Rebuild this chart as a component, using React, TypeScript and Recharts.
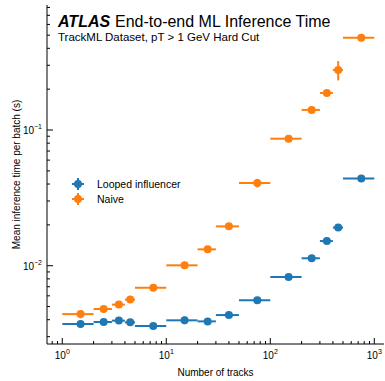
import { ScatterChart, Scatter, XAxis, YAxis, ErrorBar, Legend } from 'recharts';

const FONT = '"Liberation Sans", Arial, Helvetica, sans-serif';
const BLUE = '#1f77b4';
const ORANGE = '#ff7f0e';

// track-count bins (x error bars span the bin)
const binLow = [1, 2, 3, 4, 5, 10, 20, 30, 50, 100, 200, 300, 400, 500];
const binHigh = [2, 3, 4, 5, 10, 20, 30, 50, 100, 200, 300, 400, 500, 1000];

// mean inference time per batch (s)
const loopedTime = [0.00372, 0.00385, 0.00394, 0.00383, 0.0036, 0.00396, 0.00389, 0.00433, 0.00556, 0.00826, 0.01135, 0.0152, 0.0191, 0.044];
const loopedErr = [0.0002, 0.00015, 0.00015, 0.00012, 0.00015, 0.00025, 0.00012, 0.00012, 0.00015, 0.0002, 0.0003, 0.0004, 0.0005, 0.0008];
const naiveTime = [0.0044, 0.0048, 0.00517, 0.00563, 0.00689, 0.01007, 0.0132, 0.0195, 0.0407, 0.0863, 0.1406, 0.1875, 0.277, 0.479];
const naiveErr = [0.0003, 0.0002, 0.0002, 0.0002, 0.0002, 0.0003, 0.0003, 0.0006, 0.003, 0.002, 0.004, 0.008, 0.045, 0.01];

const xTicks = [0.8, 0.9, 1, 2, 3, 4, 5, 6, 7, 8, 9, 10, 20, 30, 40, 50, 60, 70, 80, 90, 100, 200, 300, 400, 500, 600, 700, 800, 900, 1000];
const yTicks = [0.003, 0.004, 0.005, 0.006, 0.007, 0.008, 0.009, 0.01, 0.02, 0.03, 0.04, 0.05, 0.06, 0.07, 0.08, 0.09, 0.1, 0.2, 0.3, 0.4, 0.5, 0.6, 0.7, 0.8];

const xDomain = [0.713, 1240];
const yDomain = [0.00265, 0.834];

const toRows = (times: number[], errs: number[]) =>
  times.map((t, i) => {
    const x = (binLow[i] + binHigh[i]) / 2;
    return { x, y: t, xerr: [x - binLow[i], binHigh[i] - x], yerr: errs[i] };
  });

const loopedData = toRows(loopedTime, loopedErr);
const naiveData = toRows(naiveTime, naiveErr);

const isMajor = (v: number) => Math.abs(Math.log10(v) - Math.round(Math.log10(v))) < 1e-6;
const MAJOR = 6;
const MINOR = 3;

const PowerLabel = ({ x, y, v, anchor }: any) => (
  <text x={x} y={y} textAnchor={anchor} fontFamily={FONT} fontSize={10} fill="#000">
    10
    <tspan dy={-5} fontSize={7}>{Math.round(Math.log10(v)).toString().replace('-', '\u2212')}</tspan>
  </text>
);

const BottomTick = ({ x, y, payload }: any) => {
  const major = isMajor(payload.value);
  return (
    <g>
      <line x1={x} x2={x} y1={y} y2={y - (major ? MAJOR : MINOR)} stroke="#000" />
      {major && <PowerLabel x={x} y={y + 15} v={payload.value} anchor="middle" />}
    </g>
  );
};

const TopTick = ({ x, y, payload }: any) => (
  <line x1={x} x2={x} y1={y} y2={y + (isMajor(payload.value) ? MAJOR : MINOR)} stroke="#000" />
);

const LeftTick = ({ x, y, payload }: any) => {
  const major = isMajor(payload.value);
  return (
    <g>
      <line x1={x} x2={x + (major ? MAJOR : MINOR)} y1={y} y2={y} stroke="#000" />
      {major && <PowerLabel x={x - 5} y={y + 4} v={payload.value} anchor="end" />}
    </g>
  );
};

const RightTick = ({ x, y, payload }: any) => (
  <line x1={x} x2={x - (isMajor(payload.value) ? MAJOR : MINOR)} y1={y} y2={y} stroke="#000" />
);

const Dot = (color: string) => (props: any) => <circle cx={props.cx} cy={props.cy} r={4} fill={color} />;

const LegendContent = ({ payload }: any) => (
  <div style={{ fontFamily: FONT, fontSize: 10.5, color: '#000' }}>
    {(payload || []).map((entry: any) => (
      <div key={entry.value} style={{ display: 'flex', alignItems: 'center', height: 15 }}>
        <svg width={14} height={14}>
          <line x1={1} x2={13} y1={7} y2={7} stroke={entry.color} strokeWidth={2} />
          <line x1={7} x2={7} y1={1} y2={13} stroke={entry.color} strokeWidth={2} />
          <circle cx={7} cy={7} r={4} fill={entry.color} />
        </svg>
        <span style={{ marginLeft: 12 }}>{entry.value}</span>
      </div>
    ))}
  </div>
);

export default function App() {
  return (
    <div style={{ position: 'absolute', left: 0, top: 0, width: 385, height: 381, background: '#fff' }}>
      <ScatterChart width={385} height={381} margin={{ top: 5, right: 1, bottom: 0, left: 0 }}>
        <XAxis xAxisId="b" dataKey="x" type="number" scale="log" domain={xDomain} allowDataOverflow
          ticks={xTicks} interval={0} tickSize={0} tickMargin={0} tick={<BottomTick />} height={37} stroke="#000" />
        <XAxis xAxisId="t" dataKey="x" type="number" scale="log" domain={xDomain} allowDataOverflow orientation="top"
          ticks={xTicks} interval={0} tickSize={0} tickMargin={0} tick={<TopTick />} height={0} stroke="#000" />
        <YAxis yAxisId="l" dataKey="y" type="number" scale="log" domain={yDomain} allowDataOverflow
          ticks={yTicks} interval={0} tickSize={0} tickMargin={0} tick={<LeftTick />} width={47} stroke="#000" />
        <YAxis yAxisId="r" dataKey="y" type="number" scale="log" domain={yDomain} allowDataOverflow orientation="right"
          ticks={yTicks} interval={0} tickSize={0} tickMargin={0} tick={<RightTick />} width={0} stroke="#000" />
        <Legend layout="vertical" align="center" verticalAlign="middle" content={<LegendContent />}
          wrapperStyle={{ left: 71, top: 176, width: 'auto' }} />
        <Scatter name="Looped influencer" data={loopedData} xAxisId="b" yAxisId="l" fill={BLUE}
          shape={Dot(BLUE)} isAnimationActive={false}>
          <ErrorBar dataKey="xerr" direction="x" width={0} stroke={BLUE} strokeWidth={2} />
          <ErrorBar dataKey="yerr" direction="y" width={0} stroke={BLUE} strokeWidth={2} />
        </Scatter>
        <Scatter name="Naive" data={naiveData} xAxisId="b" yAxisId="l" fill={ORANGE}
          shape={Dot(ORANGE)} isAnimationActive={false}>
          <ErrorBar dataKey="xerr" direction="x" width={0} stroke={ORANGE} strokeWidth={2} />
          <ErrorBar dataKey="yerr" direction="y" width={0} stroke={ORANGE} strokeWidth={2} />
        </Scatter>
      </ScatterChart>
      <svg width={385} height={381} style={{ position: 'absolute', left: 0, top: 0, pointerEvents: 'none' }}>
        <text x={58} y={26.5} fontFamily={FONT} fontSize={16} fontWeight="bold" fontStyle="italic">ATLAS</text>
        <text x={115} y={26.5} fontFamily={FONT} fontSize={16}>End-to-end ML Inference Time</text>
        <text x={58} y={40.5} fontFamily={FONT} fontSize={11.5}>TrackML Dataset, pT &gt; 1 GeV Hard Cut</text>
        <text x={215.5} y={376} textAnchor="middle" fontFamily={FONT} fontSize={10}>Number of tracks</text>
        <text x={19.5} y={174.5} textAnchor="middle" fontFamily={FONT} fontSize={10}
          transform="rotate(-90 19.5 174.5)">Mean inference time per batch (s)</text>
      </svg>
    </div>
  );
}
